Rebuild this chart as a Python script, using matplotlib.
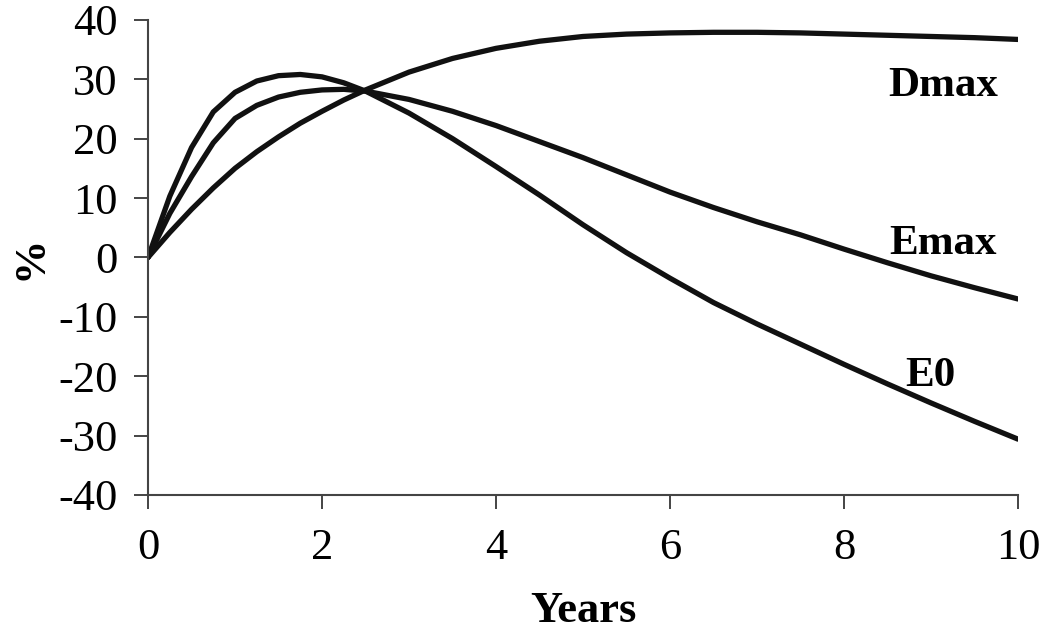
import matplotlib
matplotlib.use("Agg")
import matplotlib.pyplot as plt

years = [0, 0.25, 0.5, 0.75, 1, 1.25, 1.5, 1.75, 2, 2.25, 2.5, 3, 3.5, 4, 4.5,
         5, 5.5, 6, 6.5, 7, 7.5, 8, 8.5, 9, 9.5, 10]

dmax = [0, 4.2, 8.1, 11.7, 15.0, 17.8, 20.3, 22.6, 24.6, 26.5, 28.2, 31.2, 33.5,
        35.2, 36.4, 37.2, 37.6, 37.8, 37.9, 37.9, 37.8, 37.6, 37.4, 37.2, 37.0, 36.7]
emax = [0, 7.4, 13.6, 19.3, 23.4, 25.6, 27.0, 27.8, 28.2, 28.3, 28.0, 26.6, 24.6,
        22.2, 19.5, 16.8, 13.9, 11.0, 8.4, 6.0, 3.8, 1.4, -0.9, -3.1, -5.1, -7.0]
e0 = [0, 10.3, 18.5, 24.5, 27.8, 29.7, 30.6, 30.8, 30.4, 29.4, 28.0, 24.3, 20.0,
      15.3, 10.5, 5.5, 0.8, -3.5, -7.6, -11.2, -14.6, -18.0, -21.3, -24.5, -27.6, -30.6]

curve_names = ["Dmax", "Emax", "E0"]
label_pos = [(9.14, 28.9), (9.14, 2.2), (8.99, -20.0)]

plt.rcParams['font.family'] = ['Liberation Serif', 'DejaVu Serif']
plt.rcParams['axes.unicode_minus'] = False

fig = plt.figure(figsize=(10.5, 6.4), dpi=100)
ax = fig.add_axes([0.141, 0.2266, 0.8285, 0.7424])

for ys in (dmax, emax, e0):
    ax.plot(years, ys, color='#111111', lw=3.8,
            solid_capstyle='round', solid_joinstyle='round')

for name, (lx, ly) in zip(curve_names, label_pos):
    ax.text(lx, ly, name, fontsize=31, fontweight='bold', ha='center', va='center')

ax.set_xlim(0, 10)
ax.set_ylim(-40, 40)
ax.set_xticks(range(0, 11, 2))
ax.set_yticks(range(-40, 41, 10))
ax.tick_params(labelsize=32, length=10, width=1.4, color='#444444')
ax.tick_params(axis='x', pad=14)
ax.tick_params(axis='y', pad=12)

for s in ('top', 'right'):
    ax.spines[s].set_visible(False)
for s in ('left', 'bottom'):
    ax.spines[s].set_linewidth(1.5)
    ax.spines[s].set_color('#444444')

ax.set_xlabel("Years", fontsize=32, fontweight='bold')
ax.xaxis.set_label_coords(0.5, -0.202)
ax.set_ylabel("%", fontsize=32, fontweight='bold')
ax.yaxis.set_label_coords(-0.112, 0.5)

fig.savefig("out.png", dpi=100)
